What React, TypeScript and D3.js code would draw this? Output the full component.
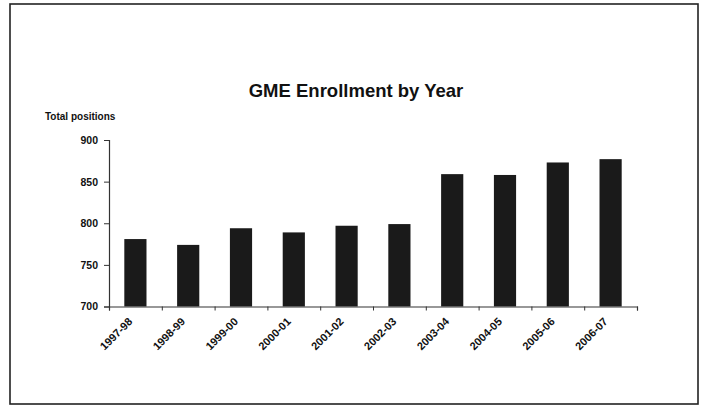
import React, { useEffect, useRef } from 'react';
import * as d3 from 'd3';

const years = ['1997-98', '1998-99', '1999-00', '2000-01', '2001-02', '2002-03', '2003-04', '2004-05', '2005-06', '2006-07'];
const positions = [781, 774, 794, 789, 797, 799, 859, 858, 873, 877];
const yTicks = [700, 750, 800, 850, 900];

const W = 709;
const H = 406;

export default function App() {
  const svgRef = useRef<SVGSVGElement>(null);

  useEffect(() => {
    if (!svgRef.current) return;
    document.body.style.margin = '0';
    const svg = d3.select(svgRef.current);
    svg.selectAll('*').remove();

    const font = 'Arial, "Liberation Sans", sans-serif';
    const margin = { top: 140, left: 109, right: 72 };
    const plotW = W - margin.left - margin.right;
    const plotH = 306.5 - margin.top;

    svg.append('rect').attr('width', W).attr('height', H).attr('fill', '#fff');

    // outer frame
    svg.append('rect')
      .attr('x', 10).attr('y', 4)
      .attr('width', 688).attr('height', 400)
      .attr('fill', 'none')
      .attr('stroke', '#222')
      .attr('stroke-width', 1.6);

    svg.append('text')
      .attr('x', 356).attr('y', 97)
      .attr('text-anchor', 'middle')
      .style('font-family', font)
      .style('font-weight', 'bold')
      .style('font-size', '18.5px')
      .style('fill', '#111')
      .text('GME Enrollment by Year');

    svg.append('text')
      .attr('x', 45).attr('y', 120)
      .style('font-family', font)
      .style('font-weight', 'bold')
      .style('font-size', '10px')
      .style('fill', '#111')
      .text('Total positions');

    const g = svg.append('g').attr('transform', `translate(${margin.left},${margin.top})`);

    const x = d3.scaleBand<string>().domain(years).range([0, plotW]).paddingInner(0.58).paddingOuter(0.29);
    const y = d3.scaleLinear().domain([700, 900]).range([plotH, 0]);

    g.selectAll('.bar')
      .data(positions)
      .enter()
      .append('rect')
      .attr('class', 'bar')
      .attr('x', (d, i) => x(years[i])!)
      .attr('y', d => y(d))
      .attr('width', x.bandwidth())
      .attr('height', d => plotH - y(d))
      .attr('fill', '#1a1a1a');

    // y axis
    const yAxis = g.append('g').call(d3.axisLeft(y).tickValues(yTicks).tickSize(5).tickPadding(6).tickFormat(d3.format('d')));
    yAxis.select('.domain').attr('stroke', '#333').attr('stroke-width', 1.2);
    yAxis.selectAll('.tick line').attr('stroke', '#333');
    yAxis.selectAll('text')
      .style('font-family', font)
      .style('font-weight', 'bold')
      .style('font-size', '10.5px')
      .style('fill', '#111');

    // x axis, ticks sit on the category boundaries
    const xLin = d3.scaleLinear().domain([0, years.length]).range([0, plotW]);
    const xAxis = g.append('g')
      .attr('transform', `translate(0,${plotH})`)
      .call(d3.axisBottom(xLin).ticks(years.length).tickSize(4).tickFormat(() => ''));
    xAxis.select('.domain').attr('stroke', '#333').attr('stroke-width', 1.2);
    xAxis.selectAll('.tick line').attr('stroke', '#333');

    g.selectAll('.xlabel')
      .data(years)
      .enter()
      .append('text')
      .attr('class', 'xlabel')
      .attr('transform', d => `translate(${x(d)! + x.bandwidth() / 2 - 5},${plotH + 13}) rotate(-45)`)
      .attr('text-anchor', 'end')
      .attr('dy', '0.35em')
      .style('font-family', font)
      .style('font-weight', 'bold')
      .style('font-size', '11px')
      .style('fill', '#111')
      .text(d => d);
  }, []);

  return <svg ref={svgRef} width={W} height={H} style={{ display: 'block' }} />;
}
